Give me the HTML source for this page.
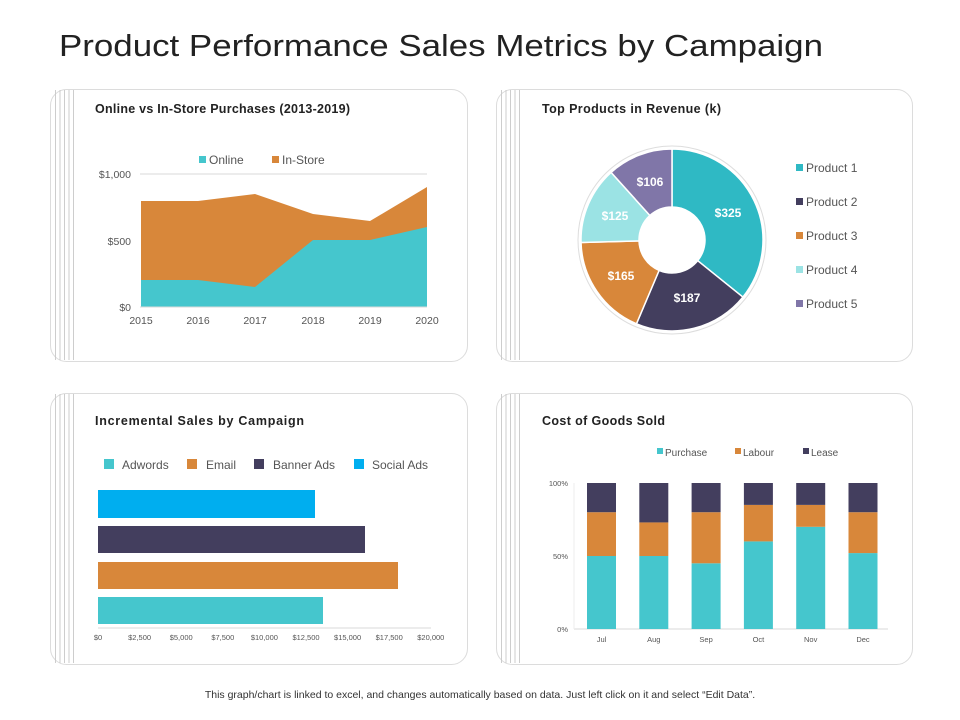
<!DOCTYPE html>
<html><head><meta charset="utf-8"><style>
body{margin:0;width:960px;height:720px;background:#fff;font-family:"Liberation Sans",sans-serif;overflow:hidden}
svg{position:absolute;left:0;top:0}
</style></head><body>
<svg id="s" width="960" height="720" xmlns="http://www.w3.org/2000/svg" font-family="Liberation Sans, sans-serif">
<text x="59" y="56" font-size="31" fill="#222" textLength="764" lengthAdjust="spacingAndGlyphs">Product Performance Sales Metrics by Campaign</text>
<g fill="#fff" stroke="#dcdcdc" stroke-width="1">
<rect x="50.5" y="89.5" width="417" height="272" rx="16"/>
<rect x="496.5" y="89.5" width="416" height="272" rx="16"/>
<rect x="50.5" y="393.5" width="417" height="271" rx="16"/>
<rect x="496.5" y="393.5" width="416" height="271" rx="16"/>
</g>
<g stroke="#c8c8c8" stroke-width="0.9" id="vl"></g>
<g font-weight="bold" font-size="12.5" fill="#222">
<text x="95" y="113" textLength="255">Online vs In-Store Purchases (2013-2019)</text>
<text x="542" y="113" textLength="179">Top Products in Revenue (k)</text>
<text x="95" y="425" textLength="209">Incremental Sales by Campaign</text>
<text x="542" y="425" textLength="123">Cost of Goods Sold</text>
</g>
<!-- area chart -->
<line x1="140" y1="174" x2="427" y2="174" stroke="#d9d9d9"/>
<polygon fill="#d8873a" points="141,201 198,201 255,194 313,214 370,221 427,187 427,307 141,307"/>
<polygon fill="#45c6cd" points="141,280 198,280 255,287 313,240 370,240 427,227 427,307 141,307"/>
<line x1="140" y1="307" x2="427" y2="307" stroke="#d9d9d9"/>
<g font-size="10.5" fill="#555" text-anchor="end"><text x="131" y="178">$1,000</text><text x="131" y="245">$500</text><text x="131" y="311">$0</text></g>
<g font-size="10.5" fill="#555" text-anchor="middle"><text x="141" y="324">2015</text><text x="198" y="324">2016</text><text x="255" y="324">2017</text><text x="313" y="324">2018</text><text x="370" y="324">2019</text><text x="427" y="324">2020</text></g>
<rect x="199" y="156" width="7" height="7" fill="#45c6cd"/><text x="209" y="164" font-size="12" fill="#555">Online</text>
<rect x="272" y="156" width="7" height="7" fill="#d8873a"/><text x="282" y="164" font-size="12" fill="#555">In-Store</text>
<!-- pie -->
<circle cx="672" cy="240" r="94" fill="none" stroke="#ddd"/>
<g id="pie" stroke="#fff" stroke-width="1.5"></g>
<g font-size="12" font-weight="bold" fill="#fff" text-anchor="middle">
<text x="728" y="217">$325</text><text x="687" y="302">$187</text><text x="621" y="280">$165</text><text x="615" y="220">$125</text><text x="650" y="186">$106</text></g>
<g font-size="12" fill="#555">
<rect x="796" y="164" width="7" height="7" fill="#2fb9c4"/><text x="806" y="172">Product 1</text>
<rect x="796" y="198" width="7" height="7" fill="#433e5e"/><text x="806" y="206">Product 2</text>
<rect x="796" y="232" width="7" height="7" fill="#d8873a"/><text x="806" y="240">Product 3</text>
<rect x="796" y="266" width="7" height="7" fill="#9be3e4"/><text x="806" y="274">Product 4</text>
<rect x="796" y="300" width="7" height="7" fill="#8076a8"/><text x="806" y="308">Product 5</text>
</g>
<!-- bars -->
<g font-size="12" fill="#555">
<rect x="104" y="459" width="10" height="10" fill="#45c6cd"/><text x="122" y="469">Adwords</text>
<rect x="187" y="459" width="10" height="10" fill="#d8873a"/><text x="206" y="469">Email</text>
<rect x="254" y="459" width="10" height="10" fill="#433e5e"/><text x="273" y="469">Banner Ads</text>
<rect x="354" y="459" width="10" height="10" fill="#00aeef"/><text x="372" y="469">Social Ads</text>
</g>
<rect x="98" y="490" width="217" height="28" fill="#00aeef"/>
<rect x="98" y="526" width="267" height="27" fill="#433e5e"/>
<rect x="98" y="562" width="300" height="27" fill="#d8873a"/>
<rect x="98" y="597" width="225" height="27" fill="#45c6cd"/>
<line x1="98" y1="628" x2="431" y2="628" stroke="#d9d9d9"/>
<g font-size="7.5" fill="#555" text-anchor="middle" id="bx"></g>
<!-- cogs -->
<g font-size="10" fill="#555">
<rect x="657" y="448" width="6" height="6" fill="#45c6cd"/><text x="665" y="456">Purchase</text>
<rect x="735" y="448" width="6" height="6" fill="#d8873a"/><text x="743" y="456">Labour</text>
<rect x="803" y="448" width="6" height="6" fill="#433e5e"/><text x="811" y="456">Lease</text>
</g>
<line x1="574" y1="629" x2="888" y2="629" stroke="#d9d9d9"/>
<line x1="574" y1="483" x2="574" y2="629" stroke="#eee"/>
<g font-size="7.5" fill="#555" text-anchor="end"><text x="568" y="486">100%</text><text x="568" y="559">50%</text><text x="568" y="632">0%</text></g>
<g id="cg"></g>
<text x="480" y="698" font-size="10.5" fill="#333" text-anchor="middle">This graph/chart is linked to excel, and changes automatically based on data. Just left click on it and select “Edit Data”.</text>
</svg>
<script>
var NS="http://www.w3.org/2000/svg";
function el(p,t,a,tx){var e=document.createElementNS(NS,t);for(var k in a)e.setAttribute(k,a[k]);if(tx)e.textContent=tx;p.appendChild(e);return e;}
var vl=document.getElementById('vl');
[[50,89,361],[496,89,361],[50,393,664],[496,393,664]].forEach(function(c){for(var i=0;i<5;i++){var x=c[0]+5.5+i*4.5;el(vl,'line',{x1:x,y1:c[1]+1,x2:x,y2:c[2]-1});}});
var pie=document.getElementById('pie'),vals=[325,187,165,125,106],cols=['#2fb9c4','#433e5e','#d8873a','#9be3e4','#8076a8'],tot=908,a=0,cx=672,cy=240,R=91,r=33;
vals.forEach(function(v,i){var a2=a+v/tot*2*Math.PI;function p(rr,t){return (cx+rr*Math.sin(t)).toFixed(2)+','+(cy-rr*Math.cos(t)).toFixed(2);}
var lg=(a2-a)>Math.PI?1:0;el(pie,'path',{fill:cols[i],d:'M'+p(R,a)+'A'+R+','+R+' 0 '+lg+' 1 '+p(R,a2)+'L'+p(r,a2)+'A'+r+','+r+' 0 '+lg+' 0 '+p(r,a)+'Z'});a=a2;});
var bx=document.getElementById('bx');['$0','$2,500','$5,000','$7,500','$10,000','$12,500','$15,000','$17,500','$20,000'].forEach(function(t,i){el(bx,'text',{x:98+i*41.6,y:640},t);});
var cg=document.getElementById('cg'),d=[[50,30,20,'Jul'],[50,23,27,'Aug'],[45,35,20,'Sep'],[60,25,15,'Oct'],[70,15,15,'Nov'],[52,28,20,'Dec']];
d.forEach(function(v,i){var x=587+i*52.3,w=29,h=146,y0=629;var p=v[0]*h/100,l=v[1]*h/100,s=v[2]*h/100;
el(cg,'rect',{x:x,y:y0-p,width:w,height:p,fill:'#45c6cd'});el(cg,'rect',{x:x,y:y0-p-l,width:w,height:l,fill:'#d8873a'});el(cg,'rect',{x:x,y:483,width:w,height:s,fill:'#433e5e'});
el(cg,'text',{x:x+w/2,y:642,'font-size':7.5,fill:'#555','text-anchor':'middle'},v[3]);});
</script>
</body></html>
